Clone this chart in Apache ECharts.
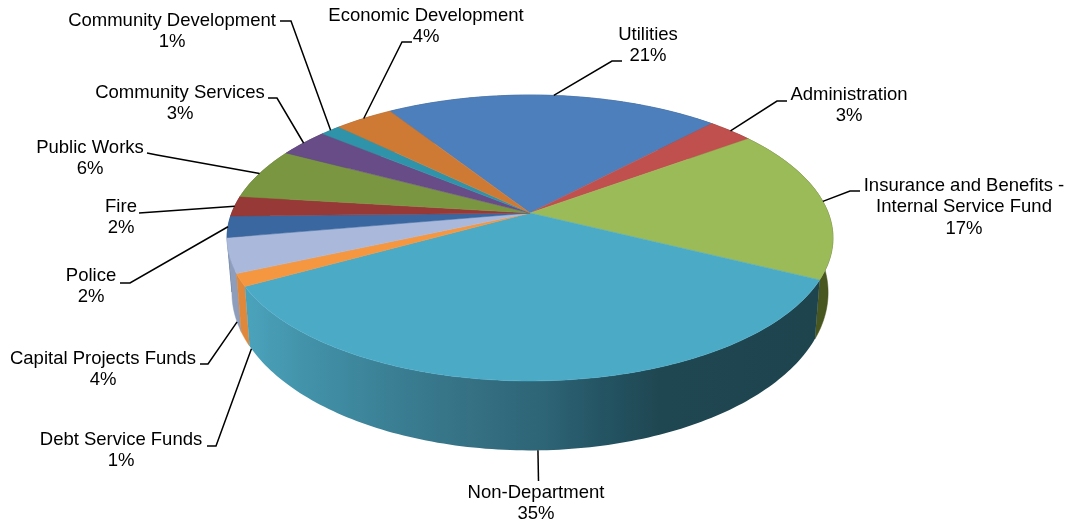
<!DOCTYPE html>
<html>
<head>
<meta charset="utf-8">
<style>html,body{margin:0;padding:0;background:#fff}#c{width:1070px;height:525px}</style>
<script src="https://cdn.jsdelivr.net/npm/echarts@6/dist/echarts.min.js"></script>
</head>
<body>
<div id="c"></div>
<script>
// ---- data (clockwise from the Utilities slice) ----
const categories = ['Utilities','Administration','Insurance and Benefits -\nInternal Service Fund','Non-Department','Debt Service Funds','Capital Projects Funds','Police','Fire','Public Works','Community Services','Community Development','Economic Development'];
const values = [21.1,2.9,17.4,34.6,1.4,3.9,2.4,2.3,5.8,3.2,1.3,3.7];

// ---- styles ----
const topColors = ['#4C7FBC','#C0504D','#9BBB59','#4BAAC6','#F59641','#AAB9DB','#3A679F','#973937','#7A9641','#674C87','#2F93A9','#CE7A34'];
const sideColors = ['#2E4D72','#75302E','#48561F',null,'#DF883C','#8D9DBB','#2A4A73','#6B2827','#55692D','#49365F','#216877','#945826'];
const nonDeptSideStops = [[0,'#4AA2BA'],[0.1,'#4292A9'],[0.25,'#3A7F94'],[0.4,'#356F82'],[0.52,'#2D6476'],[0.62,'#245463'],[0.72,'#1F4752'],[1,'#1E444E']];

// ---- label layout: text centre, first-line centre y, leader start/elbow, which rim, leader angle nudge ----
const labelLayout = [
  {x:648,y:34,line:[[622,61],[612,61]],rim:'top',nudge:0},
  {x:849,y:94,line:[[787,101],[777,101]],rim:'top',nudge:0},
  {x:964,y:185,line:[[860,191],[850,191]],rim:'top',nudge:0},
  {x:536,y:492,line:[[538.5,481]],rim:'bottom',nudge:0},
  {x:121,y:439,line:[[207,446],[216,446]],rim:'bottom',nudge:-3.5},
  {x:103,y:358,line:[[200,364],[208,364]],rim:'bottom',nudge:-3.5},
  {x:91,y:275,line:[[120,283],[130,283]],rim:'top',nudge:0},
  {x:121,y:206,line:[[139,213]],rim:'top',nudge:0},
  {x:90,y:147,line:[[147,153],[157,155]],rim:'top',nudge:0},
  {x:180,y:92,line:[[268,98],[277,98]],rim:'top',nudge:0},
  {x:172,y:20,line:[[280,21],[291,21]],rim:'top',nudge:0},
  {x:426,y:15,line:[[412,42],[402,42]],rim:'top',nudge:0}
];

// ---- pie geometry (perspective discs) ----
const startAngle = -32.6, persp = 0.1748, cx = 530;
const topDisc = {y0:213, ax:298.3, ay:138.6};
const botDisc = {y0:265, ax:293.5, ay:153};
const total = values.reduce((a,b)=>a+b,0);
function project(deg, disc){
  const r = deg*Math.PI/180, u = Math.sin(r), v = -Math.cos(r), w = 1-persp*v;
  return [cx+disc.ax*u/w, disc.y0+disc.ay*v/w];
}
function sliceAngles(i){
  let s = 0;
  for(let k=0;k<i;k++) s += values[k];
  return [startAngle+s/total*360, startAngle+(s+values[i])/total*360];
}
function renderItem(params){
  const i = params.dataIndex, [a0,a1] = sliceAngles(i), rimT = [], rimB = [];
  const n = Math.max(4,Math.ceil((a1-a0)));
  for(let k=0;k<=n;k++){
    const a = a0+(a1-a0)*k/n;
    rimT.push(project(a,topDisc));
    rimB.push(project(a,botDisc));
  }
  const sideFill = sideColors[i] || {type:'linear',x:250,y:0,x2:818,y2:0,global:true,
    colorStops:nonDeptSideStops.map(s=>({offset:s[0],color:s[1]}))};
  const sideStroke = sideColors[i] || 'transparent';
  const mid = (a0+a1)/2, lay = labelLayout[i];
  const end = project(mid+lay.nudge, lay.rim==='top'?topDisc:botDisc);
  const pct = Math.round(values[i]/total*100)+'%';
  // nearer rim pieces paint over farther ones
  const depthOrder = 1 + (1-Math.cos(mid*Math.PI/180))/2;
  return {type:'group',children:[
    {type:'polygon',z2:depthOrder,shape:{points:rimT.concat(rimB.slice().reverse())},style:{fill:sideFill,stroke:sideStroke,lineWidth:0.5}},
    {type:'polygon',z2:4,shape:{points:[[cx,topDisc.y0]].concat(rimT)},style:{fill:topColors[i],stroke:topColors[i],lineWidth:0.5}},
    {type:'polyline',z2:5,shape:{points:lay.line.concat([end])},style:{fill:null,stroke:'#000',lineWidth:1.5}},
    {type:'text',z2:6,style:{x:lay.x,y:lay.y-10,text:categories[i]+'\n'+pct,align:'center',verticalAlign:'top',
      font:'18.5px "Liberation Sans", Arial, sans-serif',lineHeight:21.5,fill:'#000'}}
  ]};
}
const chart = echarts.init(document.getElementById('c'),null,{renderer:'canvas'});
chart.setOption({
  animation:false,
  backgroundColor:'#fff',
  series:[{
    type:'custom',
    coordinateSystem:'none',
    renderItem:renderItem,
    silent:true,
    data:categories.map((c,i)=>({name:c,value:values[i]}))
  }]
});
</script>
</body>
</html>
